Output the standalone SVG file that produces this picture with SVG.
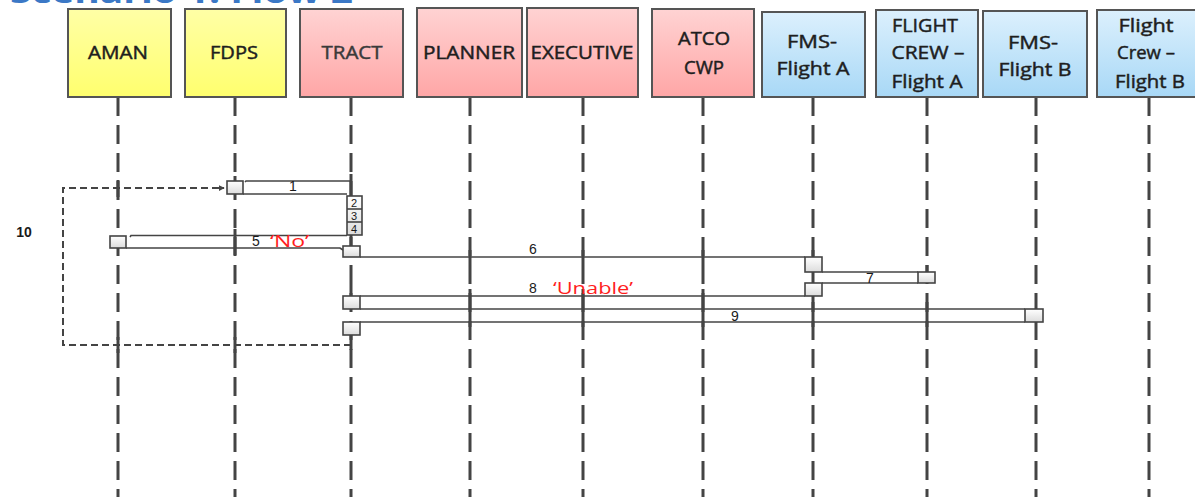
<svg xmlns="http://www.w3.org/2000/svg" width="1195" height="497" viewBox="0 0 1195 497">
  <defs>
    <linearGradient id="gYellow" x1="0" y1="0" x2="0" y2="1">
      <stop offset="0" stop-color="#ffffa6"/>
      <stop offset="1" stop-color="#ffff6e"/>
    </linearGradient>
    <linearGradient id="gPink" x1="0" y1="0" x2="0" y2="1">
      <stop offset="0" stop-color="#ffd3d3"/>
      <stop offset="1" stop-color="#ffa6a6"/>
    </linearGradient>
    <linearGradient id="gBlue" x1="0" y1="0" x2="0" y2="1">
      <stop offset="0" stop-color="#dcf0fd"/>
      <stop offset="1" stop-color="#a8d8f6"/>
    </linearGradient>
    <linearGradient id="gAct" x1="0" y1="0" x2="0" y2="1">
      <stop offset="0" stop-color="#ffffff"/>
      <stop offset="1" stop-color="#dcdcdc"/>
    </linearGradient>
    <marker id="arrowDash" viewBox="0 0 8 8" refX="7" refY="4" markerWidth="6" markerHeight="6" markerUnits="userSpaceOnUse" orient="auto">
      <path d="M0 0 L8 4 L0 8 Z" fill="#444"/>
    </marker>
    <style>
      .hdr { stroke: #555; stroke-width: 2; }
      .yel { fill: url(#gYellow); }
      .pnk { fill: url(#gPink); }
      .blu { fill: url(#gBlue); }
      .lbl { font-family: "Open Sans", "Liberation Sans", sans-serif; font-size: 18px; fill: #1e1e1e; stroke: #1e1e1e; stroke-width: 0.45; text-anchor: middle; }
      .life { stroke: #444; stroke-width: 3; stroke-dasharray: 19 9; fill: none; }
      .tick { stroke: #444; stroke-width: 3; fill: none; }
      .msg { stroke: #444; stroke-width: 1.6; fill: none; }
      .act { fill: url(#gAct); stroke: #444; stroke-width: 1.6; }
      .loop { stroke: #444; stroke-width: 2; stroke-dasharray: 7 4; fill: none; }
      .num { font-family: "Liberation Sans", Arial, sans-serif; font-size: 14px; fill: #1a1a1a; text-anchor: middle; }
      .sm { font-size: 11px; }
      .red { font-family: "Open Sans", "Liberation Sans", sans-serif; font-size: 17px; fill: #ff1e1e; }
    </style>
  </defs>

  <rect width="1195" height="497" fill="#ffffff"/>

  <!-- page title, cut off at the top edge -->
  <text x="10" y="3" font-family="Open Sans, Liberation Sans, sans-serif" font-size="30" font-weight="bold" fill="#3b78c6" textLength="343" lengthAdjust="spacingAndGlyphs">Scenario 1: Flow 2</text>

  <!-- lifelines -->
  <g id="lifelines">
    <line class="life" x1="118" y1="97" x2="118" y2="497"/>
    <line class="life" x1="235" y1="97" x2="235" y2="497"/>
    <line class="life" x1="351" y1="97" x2="351" y2="497"/>
    <line class="life" x1="470" y1="97" x2="470" y2="497"/>
    <line class="life" x1="583" y1="97" x2="583" y2="497"/>
    <line class="life" x1="703" y1="97" x2="703" y2="497"/>
    <line class="life" x1="813" y1="97" x2="813" y2="497"/>
    <line class="life" x1="927" y1="97" x2="927" y2="497"/>
    <line class="life" x1="1036" y1="97" x2="1036" y2="497"/>
    <line class="life" x1="1149" y1="97" x2="1149" y2="497"/>
  </g>

  <!-- lifeline heads -->
  <g id="aman">
    <rect class="hdr yel" x="68" y="9" width="103" height="88"/>
    <text class="lbl" x="118" y="59" textLength="60" lengthAdjust="spacingAndGlyphs">AMAN</text>
  </g>
  <g id="fdps">
    <rect class="hdr yel" x="185" y="9" width="101" height="88"/>
    <text class="lbl" x="234" y="59" textLength="48" lengthAdjust="spacingAndGlyphs">FDPS</text>
  </g>
  <g id="tract">
    <rect class="hdr pnk" x="300" y="9" width="103" height="88"/>
    <text class="lbl" x="352" y="59" textLength="61" lengthAdjust="spacingAndGlyphs" style="fill:#3a3a3a;stroke:#3a3a3a">TRACT</text>
  </g>
  <g id="planner">
    <rect class="hdr pnk" x="417" y="8" width="105" height="89"/>
    <text class="lbl" x="469" y="59" textLength="92" lengthAdjust="spacingAndGlyphs">PLANNER</text>
  </g>
  <g id="executive">
    <rect class="hdr pnk" x="527" y="8" width="111" height="89"/>
    <text class="lbl" x="582" y="59" textLength="103" lengthAdjust="spacingAndGlyphs">EXECUTIVE</text>
  </g>
  <g id="atco-cwp">
    <rect class="hdr pnk" x="652" y="9" width="102" height="88"/>
    <text class="lbl" x="704" y="45" textLength="52" lengthAdjust="spacingAndGlyphs">ATCO</text>
    <text class="lbl" x="704" y="74" textLength="40" lengthAdjust="spacingAndGlyphs">CWP</text>
  </g>
  <g id="fms-flight-a">
    <rect class="hdr blu" x="762" y="12" width="103" height="85"/>
    <text class="lbl" x="812" y="48" textLength="50" lengthAdjust="spacingAndGlyphs">FMS-</text>
    <text class="lbl" x="813" y="75" textLength="73" lengthAdjust="spacingAndGlyphs">Flight A</text>
  </g>
  <g id="flight-crew-a">
    <rect class="hdr blu" x="876" y="10" width="102" height="87"/>
    <text class="lbl" x="925" y="32" textLength="66" lengthAdjust="spacingAndGlyphs">FLIGHT</text>
    <text class="lbl" x="928" y="59" textLength="73" lengthAdjust="spacingAndGlyphs">CREW –</text>
    <text class="lbl" x="927" y="88" textLength="71" lengthAdjust="spacingAndGlyphs">Flight A</text>
  </g>
  <g id="fms-flight-b">
    <rect class="hdr blu" x="983" y="11" width="104" height="86"/>
    <text class="lbl" x="1033" y="49" textLength="50" lengthAdjust="spacingAndGlyphs">FMS-</text>
    <text class="lbl" x="1035" y="76" textLength="73" lengthAdjust="spacingAndGlyphs">Flight B</text>
  </g>
  <g id="flight-crew-b">
    <rect class="hdr blu" x="1097" y="10" width="104" height="87"/>
    <text class="lbl" x="1146" y="32" textLength="55" lengthAdjust="spacingAndGlyphs">Flight</text>
    <text class="lbl" x="1146" y="59" textLength="58" lengthAdjust="spacingAndGlyphs">Crew –</text>
    <text class="lbl" x="1150" y="88" textLength="70" lengthAdjust="spacingAndGlyphs">Flight B</text>
  </g>

  <!-- messages -->
  <g id="connectors">
    <!-- solid stretches of lifelines where messages cross -->
    <line class="tick" x1="235" y1="176" x2="235" y2="182"/>
    <line class="tick" x1="351" y1="174" x2="351" y2="196"/>
    <line class="tick" x1="118" y1="180" x2="118" y2="197"/>
    <line class="tick" x1="235" y1="229" x2="235" y2="255"/>
    <line class="tick" x1="351" y1="235" x2="351" y2="246"/>
    <line class="tick" x1="470" y1="250" x2="470" y2="265"/>
    <line class="tick" x1="583" y1="250" x2="583" y2="265"/>
    <line class="tick" x1="703" y1="250" x2="703" y2="265"/>
    <line class="tick" x1="813" y1="250" x2="813" y2="257"/>
    <line class="tick" x1="927" y1="265" x2="927" y2="272"/>
    <line class="tick" x1="351" y1="284" x2="351" y2="296"/>
    <line class="tick" x1="470" y1="289" x2="470" y2="327"/>
    <line class="tick" x1="583" y1="289" x2="583" y2="327"/>
    <line class="tick" x1="703" y1="289" x2="703" y2="327"/>
    <line class="tick" x1="813" y1="302" x2="813" y2="327"/>
    <line class="tick" x1="927" y1="302" x2="927" y2="327"/>
    <line class="tick" x1="118" y1="337" x2="118" y2="353"/>
    <line class="tick" x1="235" y1="337" x2="235" y2="353"/>
    <line class="tick" x1="351" y1="335" x2="351" y2="350"/>

    <!-- 10: dashed return loop back to FDPS -->
    <path class="loop" d="M351 345 H63 V188 H224" marker-end="url(#arrowDash)"/>

    <!-- 1 -->
    <path class="msg" d="M245 182 L246 181 H351"/>
    <path class="msg" d="M243 194 H347"/>
    <rect class="act" x="227" y="181" width="16" height="13"/>

    <!-- 2, 3, 4 -->
    <rect class="act" x="347" y="196" width="15" height="39"/>
    <line class="msg" x1="347" y1="209" x2="362" y2="209"/>
    <line class="msg" x1="347" y1="222" x2="362" y2="222"/>

    <!-- 5 -->
    <path class="msg" d="M130 237 L131 235.5 H347"/>
    <path class="msg" d="M126 248 H340 L343 250"/>
    <rect class="act" x="110" y="236" width="16" height="12"/>
    <rect class="act" x="343" y="246" width="17" height="11"/>

    <!-- 6 -->
    <line class="msg" x1="360" y1="257" x2="805" y2="257"/>
    <rect class="act" x="805" y="257" width="17" height="15"/>

    <!-- 7 -->
    <line class="msg" x1="822" y1="272" x2="918" y2="272"/>
    <line class="msg" x1="822" y1="283" x2="918" y2="283"/>
    <rect class="act" x="918" y="272" width="17" height="11"/>
    <rect class="act" x="805" y="283" width="17" height="13"/>

    <!-- 8 -->
    <line class="msg" x1="360" y1="296" x2="805" y2="296"/>
    <rect class="act" x="343" y="296" width="17" height="13"/>

    <!-- 9 -->
    <line class="msg" x1="360" y1="309" x2="1025" y2="309"/>
    <line class="msg" x1="360" y1="322" x2="1025" y2="322"/>
    <rect class="act" x="1025" y="309" width="18" height="13"/>
    <rect class="act" x="343" y="322" width="17" height="13"/>
  </g>

  <!-- message labels -->
  <g id="labels">
    <text class="num" x="293" y="191">1</text>
    <text class="num sm" x="354" y="207">2</text>
    <text class="num sm" x="354" y="220">3</text>
    <text class="num sm" x="354" y="233">4</text>
    <text class="num" x="256" y="246">5</text>
    <text class="red" x="270" y="247" textLength="39" lengthAdjust="spacingAndGlyphs">‘No’</text>
    <text class="num" x="533" y="254">6</text>
    <text class="num" x="870" y="283">7</text>
    <text class="num" x="533" y="293">8</text>
    <text class="red" x="553" y="294" textLength="80" lengthAdjust="spacingAndGlyphs">‘Unable’</text>
    <text class="num" x="735" y="321">9</text>
    <text class="num" x="24" y="237" font-weight="bold" font-size="14">10</text>
  </g>
</svg>
